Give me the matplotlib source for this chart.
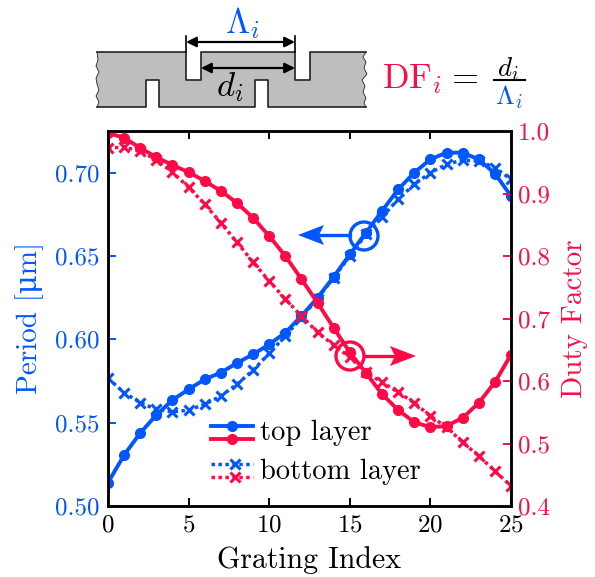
import matplotlib
matplotlib.use('Agg')
import matplotlib.pyplot as plt
from matplotlib.patches import Circle, Polygon

plt.rcParams['font.family'] = ['cmr10', 'DejaVu Serif']
plt.rcParams['mathtext.fontset'] = 'cm'
plt.rcParams['axes.formatter.use_mathtext'] = True

index = list(range(26))
period_top = [0.514, 0.5306, 0.5438, 0.5546, 0.5636, 0.570, 0.576, 0.580, 0.5858, 0.591, 0.597, 0.604, 0.614,
              0.625, 0.6375, 0.651, 0.664, 0.677, 0.690, 0.700, 0.708, 0.712, 0.712, 0.708, 0.6995, 0.686]
period_bottom = [0.5766, 0.568, 0.562, 0.558, 0.5565, 0.5575, 0.561, 0.566, 0.573, 0.5815, 0.5916, 0.602, 0.613,
                 0.6245, 0.637, 0.650, 0.663, 0.6735, 0.684, 0.693, 0.700, 0.705, 0.7075, 0.707, 0.703, 0.696]
df_top = [0.997, 0.989, 0.973, 0.958, 0.9456, 0.934, 0.92, 0.904, 0.885, 0.861, 0.832, 0.80, 0.763,
          0.725, 0.685, 0.646, 0.613, 0.579, 0.5536, 0.534, 0.526, 0.528, 0.541, 0.565, 0.598, 0.642]
df_bottom = [0.973, 0.974, 0.968, 0.954, 0.934, 0.91, 0.883, 0.853, 0.822, 0.79, 0.76, 0.731, 0.704,
             0.678, 0.6576, 0.638, 0.614, 0.598, 0.582, 0.565, 0.544, 0.526, 0.502, 0.48, 0.456, 0.432]

x_ticks = [0, 5, 10, 15, 20, 25]
period_ticks = [0.50, 0.55, 0.60, 0.65, 0.70]
df_ticks = [0.4, 0.5, 0.6, 0.7, 0.8, 0.9, 1.0]

blue = '#0057ff'
red = '#ff0a47'
W, H = 595, 577
dots = (0, (1, 1))

fig = plt.figure(figsize=(W / 100, H / 100), dpi=100)
ax = fig.add_axes([108 / W, 1 - 506 / H, 403 / W, 375 / H])
ax2 = ax.twinx()

ax.plot(index, period_bottom, color=blue, ls=dots, lw=2.5, marker='x', ms=7.5, mew=2.2)
ax.plot(index, period_top, color=blue, lw=2.8, marker='o', ms=7)
ax2.plot(index, df_bottom, color=red, ls=dots, lw=2.5, marker='x', ms=7.5, mew=2.2)
ax2.plot(index, df_top, color=red, lw=2.8, marker='o', ms=7)

ax.set_xlim(0, 25)
ax.set_ylim(0.50, 0.725)
ax2.set_ylim(0.4, 1.0)
ax.set_xticks(x_ticks)
ax.set_yticks(period_ticks)
ax.set_yticklabels(['%.2f' % v for v in period_ticks])
ax2.set_yticks(df_ticks)
ax2.set_yticklabels(['%.1f' % v for v in df_ticks])
ax.tick_params(axis='x', direction='in', top=True, length=6, width=1.4, labelsize=18, pad=6)
ax.tick_params(axis='y', direction='in', length=6, width=1.4, labelsize=18, colors=blue, pad=6)
ax2.tick_params(axis='y', direction='in', length=6, width=1.4, labelsize=18, colors=red, pad=5)
for a in (ax, ax2):
    for s in a.spines.values():
        s.set_linewidth(1.8)
ax.set_xlabel('Grating Index', fontsize=21.5, labelpad=7)
ax.set_ylabel('Period [\u03bcm]', fontsize=21, color=blue, labelpad=8)
ax2.set_ylabel('Duty Factor', fontsize=21, color=red, labelpad=8)

# overlay in pixel coordinates for the sketch, legend and callouts
ov = fig.add_axes([0, 0, 1, 1])
ov.set_xlim(0, W)
ov.set_ylim(H, 0)
ov.axis('off')
ov.patch.set_alpha(0)

# grating cross section
outline = [(97, 52), (186, 52), (186, 80), (201, 80), (201, 52), (295, 52), (295, 80), (310, 80), (310, 52), (366, 52)]
right_edge = [(363, 57), (366, 62), (364, 68), (367, 74), (362, 80), (365, 86), (363, 92), (366, 98), (364, 103), (366, 107)]
bottom = [(366, 107), (268, 107), (268, 80), (255, 80), (255, 107), (159, 107), (159, 80), (146, 80), (146, 107), (97, 107)]
left_edge = [(99, 102), (96, 96), (99, 90), (97, 84), (96, 78), (99, 72), (96, 66), (98, 60)]
ov.add_patch(Polygon(outline + right_edge + bottom + left_edge, closed=True, fc='#bebebe', ec='none'))
ov.plot([p[0] for p in outline], [p[1] for p in outline], color='#222222', lw=1.2)
ov.plot([p[0] for p in bottom], [p[1] for p in bottom], color='#222222', lw=1.2)
for edge, start, end in ((right_edge, (366, 52), (366, 107)), (left_edge, (97, 107), (97, 52))):
    xs = [start[0]] + [p[0] for p in edge] + [end[0]]
    ys = [start[1]] + [p[1] for p in edge] + [end[1]]
    ov.plot(xs, ys, color='#222222', lw=0.6)

# dimension arrows
arrow = dict(arrowstyle='<|-|>', color='k', lw=1.6, mutation_scale=15, shrinkA=0, shrinkB=0)
ov.annotate('', xy=(186, 42), xytext=(295, 42), arrowprops=arrow)
ov.annotate('', xy=(201, 68), xytext=(295, 68), arrowprops=arrow)
ov.plot([186, 186], [36, 52], color='k', lw=1.2)
ov.plot([295, 295], [36, 52], color='k', lw=1.2)
ov.text(242, 33, r'$\Lambda_i$', color=blue, fontsize=25, ha='center', va='baseline')
ov.text(230, 96, r'$d_i$', color='k', fontsize=25, ha='center', va='baseline')
ov.text(382, 88, r'$\mathrm{DF}_i$', color=red, fontsize=25, ha='left', va='baseline')
ov.text(452, 88, '=', color='k', fontsize=25, ha='left', va='baseline')
ov.plot([494, 525], [80, 80], color='k', lw=1.5)
ov.text(508, 76, r'$d_i$', color='k', fontsize=19.5, ha='center', va='baseline')
ov.text(509, 104, r'$\Lambda_i$', color=blue, fontsize=19.5, ha='center', va='baseline')

# callouts
ov.add_patch(Circle((364, 236), 14, fc='none', ec=blue, lw=2.4))
ov.plot([318, 350], [235, 235], color=blue, lw=2.4)
ov.add_patch(Polygon([(298, 235), (324, 225), (319, 235), (324, 245)], closed=True, fc=blue, ec='none'))
ov.add_patch(Circle((350, 356), 14, fc='none', ec=red, lw=2.4))
ov.plot([364, 396], [356, 356], color=red, lw=2.4)
ov.add_patch(Polygon([(416, 356), (390, 346), (395, 356), (390, 366)], closed=True, fc=red, ec='none'))

# legend
for y, c in ((426, blue), (439, red)):
    ov.plot([211, 253], [y, y], color=c, lw=2.8)
    ov.plot([232], [y], color=c, marker='o', ms=7)
for y, c in ((464, blue), (477, red)):
    ov.plot([211, 253], [y, y], color=c, ls=dots, lw=2.5)
    ov.plot([235], [y], color=c, marker='x', ms=7, mew=2.2)
ov.text(260, 440, 'top layer', fontsize=20.5, ha='left', va='baseline')
ov.text(260, 479, 'bottom layer', fontsize=20.5, ha='left', va='baseline')

fig.savefig('out.png', dpi=100)
